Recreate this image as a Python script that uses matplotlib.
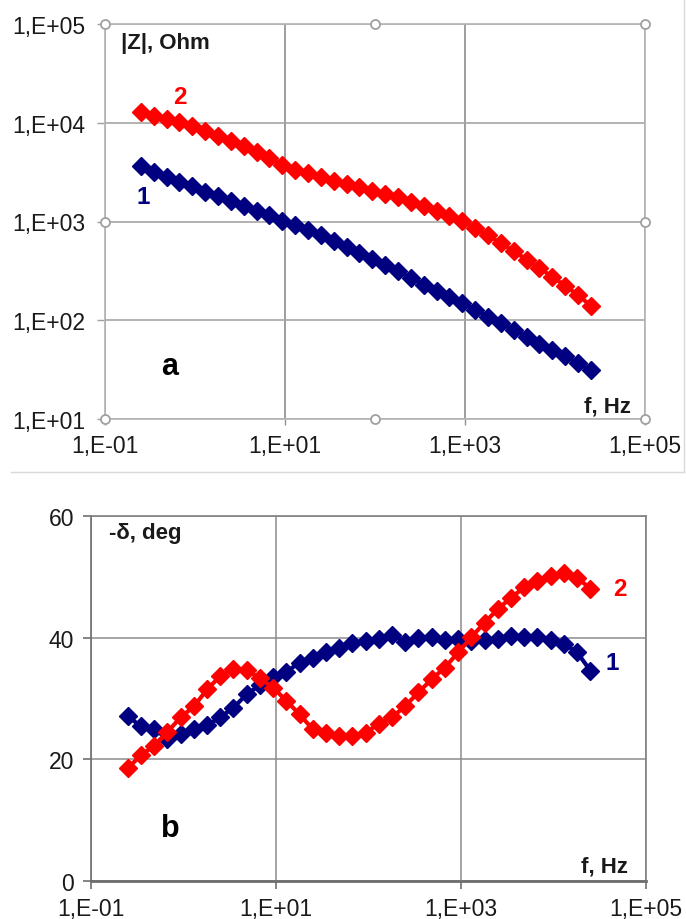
import numpy as np
import matplotlib
matplotlib.use("Agg")
import matplotlib.pyplot as plt
from matplotlib.lines import Line2D

plt.rcParams['font.family'] = ['Liberation Sans', 'DejaVu Sans']

# frequency points, Hz (about 7 per decade)
freq = [0.25, 0.347, 0.483, 0.671, 0.932, 1.295, 1.799, 2.5, 3.47, 4.83,
        6.71, 9.32, 12.95, 17.99, 25.0, 34.7, 48.3, 67.1, 93.2, 129.5,
        179.9, 250, 347, 483, 671, 932, 1295, 1799, 2500, 3470,
        4830, 6710, 9320, 12950, 17990, 25000]

# |Z|, Ohm
z1 = [3673, 3148, 2799, 2523, 2270, 2000, 1799, 1600, 1445, 1285,
      1153, 1023, 929, 828, 724, 635, 552, 484, 422, 363,
      312, 268, 230, 198, 171, 149, 127, 109, 94, 80,
      68, 58, 50, 43, 37, 31]
z2 = [12770, 11610, 10910, 10120, 9330, 8320, 7290, 6580, 5780, 5090,
      4370, 3730, 3350, 3100, 2810, 2590, 2400, 2220, 2050, 1900,
      1760, 1590, 1450, 1285, 1145, 1010, 861, 724, 603, 501,
      412, 339, 275, 224, 180, 140]

# -delta, deg
d1 = [27.1, 25.4, 25.0, 23.3, 24.2, 25.0, 25.6, 26.9, 28.5, 30.7,
      32.2, 33.6, 34.4, 35.9, 36.6, 37.6, 38.3, 39.1, 39.5, 39.8,
      40.5, 39.3, 39.9, 40.1, 39.7, 39.8, 39.5, 39.7, 39.8, 40.3,
      40.2, 40.1, 39.7, 39.0, 37.6, 34.6]
d2 = [18.5, 20.7, 22.2, 24.5, 26.9, 28.7, 31.5, 33.7, 34.8, 34.7,
      33.3, 31.8, 29.6, 27.4, 24.9, 24.4, 23.8, 23.9, 24.4, 25.8,
      26.9, 28.8, 31.0, 33.2, 35.1, 37.6, 40.1, 42.5, 44.7, 46.6,
      48.3, 49.4, 50.2, 50.6, 49.9, 48.1]

x_ticks = [0.1, 10, 1000, 100000]
x_labels = ['1,E-01', '1,E+01', '1,E+03', '1,E+05']
z_ticks = [10, 100, 1000, 10000, 100000]
z_labels = ['1,E+01', '1,E+02', '1,E+03', '1,E+04', '1,E+05']
d_ticks = [0, 20, 40, 60]
d_labels = ['0', '20', '40', '60']

NAVY = '#000080'
RED = '#ff0000'
W, H = 686, 920
MS = 9
LW = 3


def px(x, y):
    return x / W, 1 - y / H


fig = plt.figure(figsize=(W / 100, H / 100), dpi=100)

# outer frame of the upper chart
fig.add_artist(Line2D([11 / W, 684 / W], [1 - 473 / H, 1 - 473 / H], color='#d9d9d9', lw=1))
fig.add_artist(Line2D([684 / W, 684 / W], [1 - 473 / H, 1.0], color='#d9d9d9', lw=1))

# ---------- a: |Z| ----------
ax1 = fig.add_axes([105 / W, 1 - 420 / H, 540 / W, 395 / H])
ax1.set_xscale('log')
ax1.set_yscale('log')
ax1.set_xlim(0.1, 1e5)
ax1.set_ylim(10, 1e5)
ax1.set_xticks(x_ticks)
ax1.set_xticklabels(x_labels)
ax1.set_yticks(z_ticks)
ax1.set_yticklabels(z_labels)
ax1.minorticks_off()
for s in ax1.spines.values():
    s.set_color('#b4b4b4')
    s.set_linewidth(1.2)
ax1.tick_params(axis='y', length=6, width=1, color='#a0a0a0', pad=8, labelsize=16.5, labelcolor='#1a1a1a')
ax1.tick_params(axis='x', length=4, width=1, color='#909090', pad=7, labelsize=16.5, labelcolor='#1a1a1a')
ax1.grid(axis='y', color='#a6a6a6', lw=1.2)
ax1.grid(axis='x', color='#8c8c8c', lw=1.2)
ax1.set_axisbelow(True)

ax1.plot(freq, z1, color=NAVY, lw=LW, marker='D', ms=MS, mec=NAVY, mfc=NAVY, clip_on=False)
ax1.plot(freq, z2, color=RED, lw=LW, marker='D', ms=MS, mec=RED, mfc=RED, clip_on=False)

# selection handles
hx = [0, 0.5, 1, 0, 1, 0, 0.5, 1]
hy = [0, 0, 0, 0.5, 0.5, 1, 1, 1]
ax1.plot(hx, hy, 'o', transform=ax1.transAxes, ms=6.5, mfc='white', mec='#a0a0a0',
         mew=1.3, ls='none', clip_on=False, zorder=5)

fig.text(*px(121, 44), '|Z|, Ohm', fontsize=16, fontweight='bold', ha='left', va='center', color='#1a1a1a')
fig.text(*px(180, 97), '2', fontsize=17.5, fontweight='bold', ha='center', va='center', color=RED)
fig.text(*px(143, 197), '1', fontsize=17.5, fontweight='bold', ha='center', va='center', color=NAVY)
fig.text(*px(170, 367), 'a', fontsize=22, fontweight='bold', ha='center', va='center', color='black')
fig.text(*px(631, 407), 'f, Hz', fontsize=16, fontweight='bold', ha='right', va='center', color='#1a1a1a')

# ---------- b: -delta ----------
ax2 = fig.add_axes([91 / W, 1 - 881.7 / H, 555 / W, 364.4 / H])
ax2.set_xscale('log')
ax2.set_xlim(0.1, 1e5)
ax2.set_ylim(0, 60)
ax2.set_xticks(x_ticks)
ax2.set_xticklabels(x_labels)
ax2.set_yticks(d_ticks)
ax2.set_yticklabels(d_labels)
ax2.minorticks_off()
for s in ax2.spines.values():
    s.set_color('#808080')
    s.set_linewidth(1.2)
ax2.spines['bottom'].set_color('#6e6e6e')
ax2.spines['bottom'].set_linewidth(2)
ax2.spines['left'].set_color('#6e6e6e')
ax2.tick_params(axis='both', length=6, width=1.2, color='#707070', pad=6, labelsize=16.5, labelcolor='#1a1a1a')
ax2.grid(color='#8c8c8c', lw=1.1)
ax2.set_axisbelow(True)

ax2.plot(freq, d1, color=NAVY, lw=LW, marker='D', ms=MS, mec=NAVY, mfc=NAVY, clip_on=False)
ax2.plot(freq, d2, color=RED, lw=LW, marker='D', ms=MS, mec=RED, mfc=RED, clip_on=False)

fig.text(*px(109, 533), '-δ, deg', fontsize=16, fontweight='bold', ha='left', va='center', color='#1a1a1a')
fig.text(*px(620, 590), '2', fontsize=17.5, fontweight='bold', ha='center', va='center', color=RED)
fig.text(*px(612, 663), '1', fontsize=17.5, fontweight='bold', ha='center', va='center', color=NAVY)
fig.text(*px(170, 829), 'b', fontsize=22, fontweight='bold', ha='center', va='center', color='black')
fig.text(*px(628, 867), 'f, Hz', fontsize=16, fontweight='bold', ha='right', va='center', color='#1a1a1a')

fig.savefig('out.png', dpi=100)
